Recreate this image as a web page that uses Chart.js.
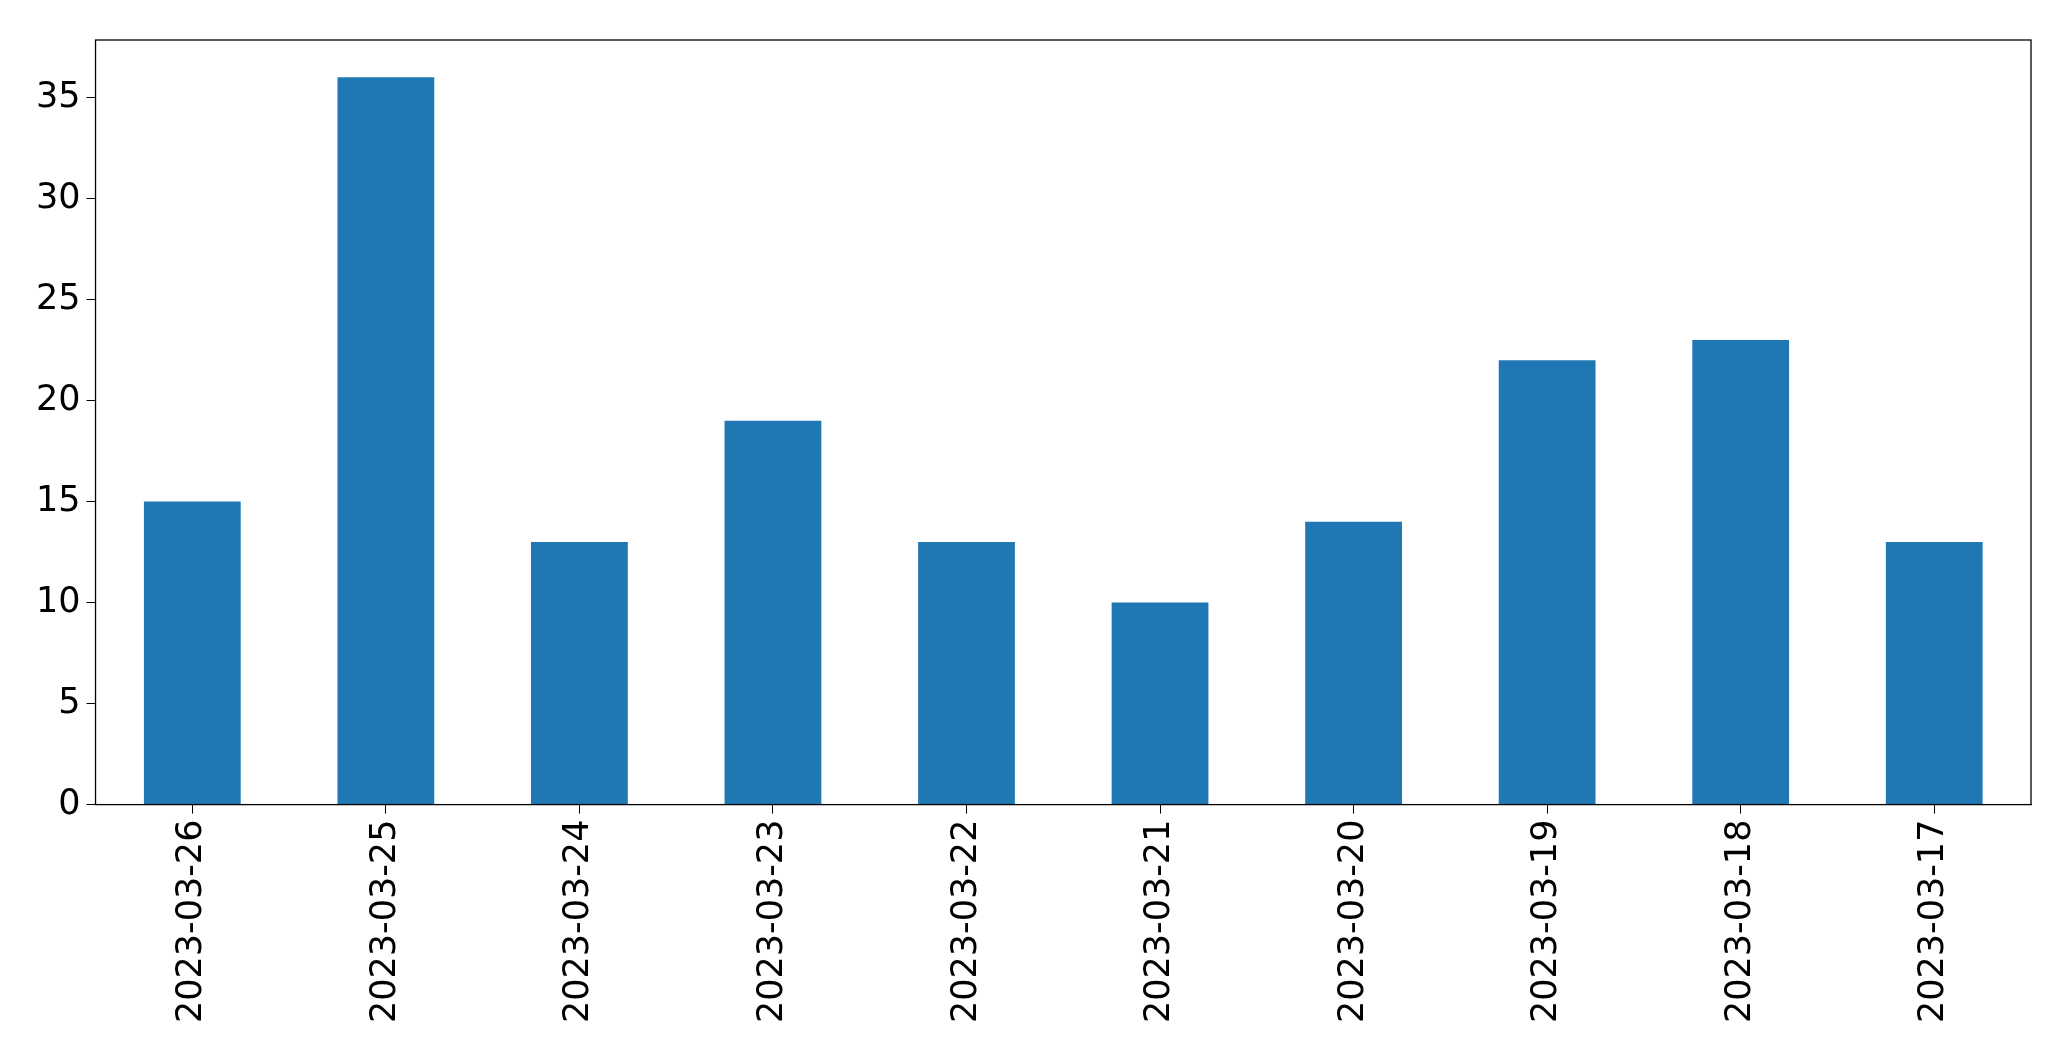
<!DOCTYPE html>
<html>
<head>
<meta charset="utf-8">
<script src="https://cdn.jsdelivr.net/npm/chart.js@4/dist/chart.umd.min.js"></script>
<style>
  html, body { margin: 0; padding: 0; background: #fff; }
  #wrap { width: 2071px; height: 1061px; }
</style>
</head>
<body>
<div id="wrap"><canvas id="chart"></canvas></div>
<script>
// data
const dates = ['2023-03-26', '2023-03-25', '2023-03-24', '2023-03-23', '2023-03-22',
               '2023-03-21', '2023-03-20', '2023-03-19', '2023-03-18', '2023-03-17'];
const counts = [15, 36, 13, 19, 13, 10, 14, 22, 23, 13];
const yTicks = [0, 5, 10, 15, 20, 25, 30, 35];

// box around the plot area, like matplotlib spines
const frame = {
  id: 'frame',
  afterDraw(chart) {
    const { ctx, chartArea: a } = chart;
    ctx.save();
    ctx.strokeStyle = '#000';
    ctx.lineWidth = 1.3;
    ctx.strokeRect(a.left, a.top, a.right - a.left, a.bottom - a.top);
    ctx.restore();
  }
};

const tickFont = { family: 'DejaVu Sans', size: 35 };

new Chart(document.getElementById('chart').getContext('2d'), {
  type: 'bar',
  data: {
    labels: dates,
    datasets: [{
      data: counts,
      backgroundColor: '#1f77b4',
      categoryPercentage: 1,
      barPercentage: 0.5
    }]
  },
  options: {
    responsive: true,
    maintainAspectRatio: false,
    animation: false,
    layout: { padding: { top: 40, right: 40, left: 30, bottom: 32 } },
    plugins: { legend: { display: false }, tooltip: { enabled: false } },
    scales: {
      x: {
        grid: { offset: false, drawOnChartArea: false, drawTicks: true, tickLength: 9, color: '#000' },
        border: { color: '#000' },
        ticks: { color: '#000', font: tickFont, maxRotation: 90, minRotation: 90, padding: 6 }
      },
      y: {
        min: 0,
        max: 37.85,
        afterBuildTicks(axis) { axis.ticks = yTicks.map(v => ({ value: v })); },
        grid: { drawOnChartArea: false, drawTicks: true, tickLength: 9, color: '#000' },
        border: { color: '#000' },
        ticks: { color: '#000', font: tickFont, padding: 6 }
      }
    }
  },
  plugins: [frame]
});
</script>
</body>
</html>
